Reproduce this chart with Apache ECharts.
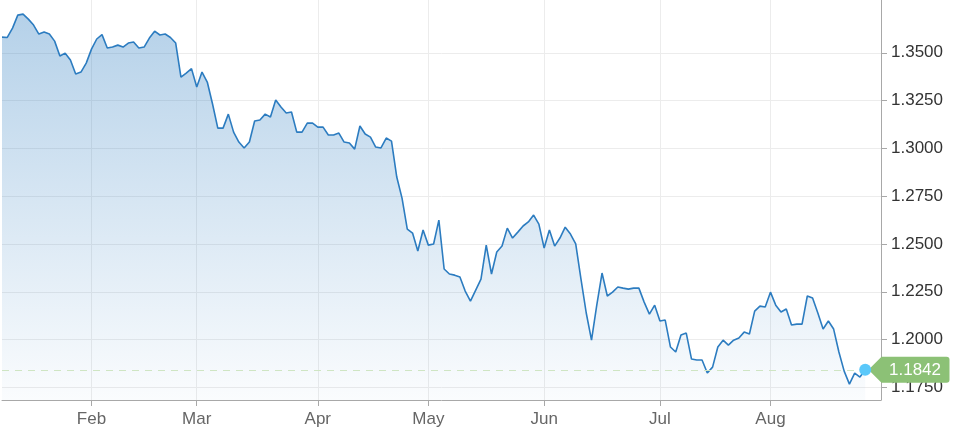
<!DOCTYPE html>
<html>
<head>
<meta charset="utf-8">
<script src="https://cdn.jsdelivr.net/npm/echarts@6/dist/echarts.min.js"></script>
<style>
html,body{margin:0;padding:0;background:#fff;}
#chart{width:959px;height:441px;}
</style>
</head>
<body>
<div id="chart"></div>
<script>
// Business days (2022) per month
const janDays = [7,10,11,12,13,14,17,18,19,20,21,24,25,26,27,28,31];
const febDays = [1,2,3,4,7,8,9,10,11,14,15,16,17,18,21,22,23,24,25,28];
const marDays = [1,2,3,4,7,8,9,10,11,14,15,16,17,18,21,22,23,24,25,28,29,30,31];
const aprDays = [1,4,5,6,7,8,11,12,13,14,15,18,19,20,21,22,25,26,27,28,29];
const mayDays = [2,3,4,5,6,9,10,11,12,13,16,17,18,19,20,23,24,25,26,27,30,31];
const junDays = [1,2,3,6,7,8,9,10,13,14,15,16,17,20,21,22,23,24,27,28,29,30];
const julDays = [1,4,5,6,7,8,11,12,13,14,15,18,19,20,21,22,25,26,27,28,29];
const augDays = [1,2,3,4,5,8,9,10,11,12,15,16,17,18,19,22,23,24,25,26,29,30];

// Daily values per month
const janVals = [1.3582,1.3580,1.3629,1.3697,1.3702,1.3676,1.3645,1.3598,1.3608,1.3598,1.3561,1.3483,1.3498,1.3462,1.3389,1.3399,1.3446];
const febVals = [1.3519,1.3572,1.3595,1.3525,1.3530,1.3540,1.3530,1.3551,1.3556,1.3525,1.3530,1.3577,1.3613,1.3593,1.3598,1.3580,1.3551,1.3373,1.3394,1.3417];
const marVals = [1.3321,1.3399,1.3347,1.3232,1.3106,1.3106,1.3179,1.3085,1.3033,1.3002,1.3033,1.3143,1.3148,1.3179,1.3164,1.3253,1.3216,1.3185,1.3190,1.3085,1.3085,1.3132,1.3132];
const aprVals = [1.3111,1.3111,1.3070,1.3070,1.3080,1.3033,1.3028,1.2996,1.3117,1.3075,1.3059,1.3007,1.3002,1.3054,1.3038,1.2850,1.2740,1.2578,1.2557,1.2463,1.2573];
const mayVals = [1.2494,1.2500,1.2625,1.2369,1.2343,1.2337,1.2327,1.2254,1.2201,1.2259,1.2316,1.2494,1.2343,1.2458,1.2489,1.2583,1.2531,1.2562,1.2594,1.2615,1.2651,1.2604];
const junVals = [1.2479,1.2573,1.2489,1.2531,1.2588,1.2552,1.2500,1.2316,1.2139,1.1997,1.2180,1.2348,1.2228,1.2248,1.2275,1.2269,1.2264,1.2269,1.2269,1.2196,1.2133,1.2180];
const julVals = [1.2097,1.2102,1.1961,1.1935,1.2024,1.2034,1.1898,1.1893,1.1893,1.1825,1.1856,1.1961,1.1997,1.1971,1.1997,1.2008,1.2039,1.2029,1.2149,1.2175,1.2170];
const augVals = [1.2248,1.2180,1.2144,1.2160,1.2076,1.2081,1.2081,1.2228,1.2217,1.2139,1.2055,1.2097,1.2055,1.1935,1.1835,1.1767,1.1825,1.1804,1.1842];

const monthNames = ['Jan','Feb','Mar','Apr','May','Jun','Jul','Aug'];
const yTicks = [1.175,1.2,1.225,1.25,1.275,1.3,1.325,1.35];
const yMin = 1.1684, yMax = 1.3776;

const monthDays = [janDays,febDays,marDays,aprDays,mayDays,junDays,julDays,augDays];
const monthVals = [janVals,febVals,marVals,aprVals,mayVals,junVals,julVals,augVals];

const categories = [];
const monthStart = {};
monthDays.forEach((days, m) => {
  days.forEach((d, k) => {
    const s = '2022-' + String(m + 1).padStart(2, '0') + '-' + String(d).padStart(2, '0');
    if (k === 0 && m > 0) monthStart[categories.length] = monthNames[m];
    categories.push(s);
  });
});
const values = [].concat(...monthVals);
const lastIdx = values.length - 1;
const lastVal = values[lastIdx];

const isMonthStart = (idx) => monthStart[idx] !== undefined;

const chart = echarts.init(document.getElementById('chart'), null, {renderer: 'canvas'});
const FONT = '"Liberation Sans", Arial, Helvetica, sans-serif';

chart.setOption({
  animation: false,
  backgroundColor: '#ffffff',
  grid: { left: 2, right: 78, top: 0, bottom: 41, outerBoundsMode: 'none', containLabel: false },
  xAxis: {
    type: 'category',
    data: categories,
    boundaryGap: false,
    axisLine: { show: true, lineStyle: { color: '#a8a8a8', width: 1 } },
    axisTick: { show: true, length: 6, interval: (i) => isMonthStart(i), lineStyle: { color: '#a8a8a8' } },
    axisLabel: {
      show: true, interval: (i) => isMonthStart(i),
      formatter: (v, i) => monthStart[i] || '',
      color: '#666666', fontSize: 17, fontFamily: FONT, margin: 11
    },
    splitLine: { show: true, interval: (i) => isMonthStart(i), lineStyle: { color: '#ececec', width: 1 } }
  },
  yAxis: {
    type: 'value',
    position: 'right',
    min: yMin, max: yMax,
    axisLine: { show: true, lineStyle: { color: '#a8a8a8', width: 1 } },
    axisTick: { show: true, length: 6, customValues: yTicks, lineStyle: { color: '#a8a8a8' } },
    axisLabel: {
      customValues: yTicks,
      formatter: (v) => Number(v).toFixed(4),
      color: '#333333', fontSize: 17, fontFamily: FONT, margin: 10
    },
    splitLine: { show: true, lineStyle: { color: '#ececec', width: 1 } }
  },
  series: [{
    type: 'line',
    data: values,
    showSymbol: false,
    symbol: 'none',
    lineStyle: { color: '#2c7cc0', width: 1.6 },
    itemStyle: { color: '#2c7cc0' },
    areaStyle: {
      color: new echarts.graphic.LinearGradient(0, 0, 0, 1, [
        { offset: 0, color: 'rgba(44,124,192,0.50)' },
        { offset: 1, color: 'rgba(44,124,192,0.03)' }
      ])
    },
    markLine: {
      silent: true,
      symbol: ['none', 'none'],
      label: { show: false },
      lineStyle: { color: '#cfe5c3', type: [7, 6], width: 1 },
      data: [[
        { coord: [categories[0], lastVal] },
        { coord: [categories[categories.length - 1], lastVal] }
      ]]
    },
    markPoint: {
      silent: true,
      data: [
        {
          coord: [categories[categories.length - 1], lastVal],
          symbol: 'path://M0,13 L13,0 L78,0 Q81,0 81,3 L81,23 Q81,26 78,26 L13,26 Z',
          symbolSize: [81, 26],
          symbolKeepAspect: false,
          symbolOffset: [28, 0],
          itemStyle: { color: '#8cc176' },
          label: {
            show: true, position: 'inside', offset: [6, 1],
            formatter: lastVal.toFixed(4),
            color: '#ffffff', fontSize: 17, fontFamily: FONT
          }
        },
        {
          coord: [categories[lastIdx], lastVal],
          symbol: 'circle',
          symbolSize: 12,
          itemStyle: { color: '#5ac8fa' },
          label: { show: false }
        }
      ]
    }
  }]
});
</script>
</body>
</html>
